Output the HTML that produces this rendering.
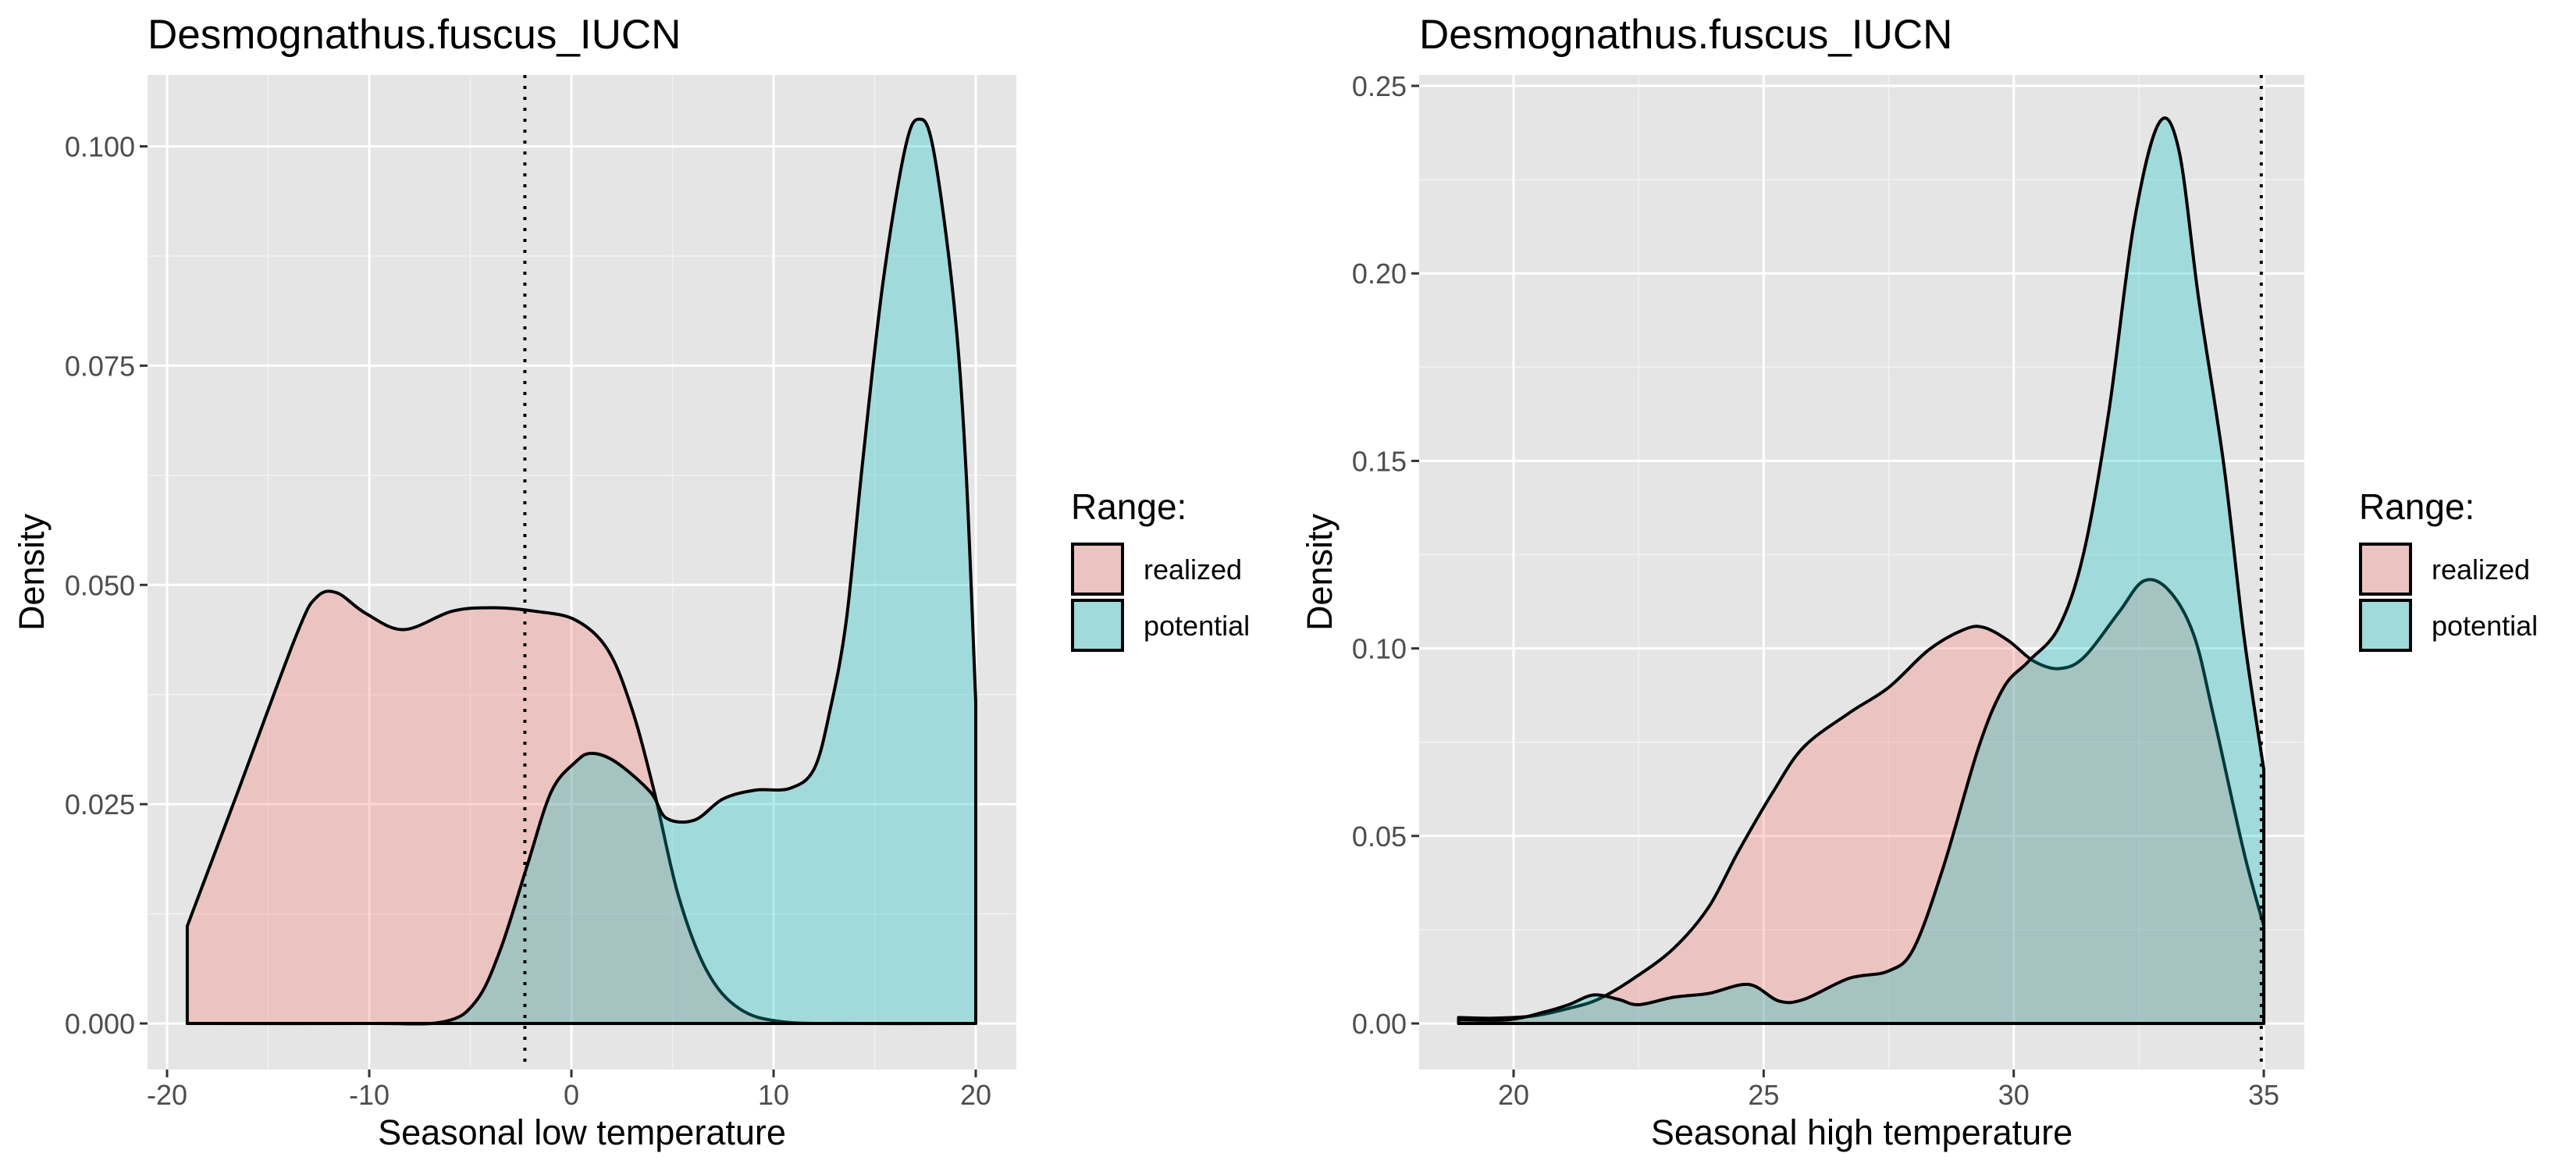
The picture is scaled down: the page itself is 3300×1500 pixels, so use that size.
<!DOCTYPE html>
<html><head><meta charset="utf-8"><style>
html,body{margin:0;padding:0;background:#fff;}
svg{display:block;font-family:"Liberation Sans",sans-serif;}
</style></head><body>
<svg id="chart" width="3300" height="1500" viewBox="0 0 3300 1500" xmlns="http://www.w3.org/2000/svg"></svg>
<script>
// ---- Data: left panel (Seasonal low temperature)
const lowRealizedX = [-19,-16.5,-13.6,-12.6,-11.6,-10.2,-8.3,-5.9,-3.9,-1.8,0.2,1.8,3.0,4.1,5.3,6.7,8.3,10.4,14,20];
const lowRealizedY = [0.0111,0.0264,0.0443,0.0486,0.0491,0.0468,0.0449,0.047,0.0474,0.047,0.046,0.0426,0.0358,0.0264,0.0145,0.006,0.0017,0.0002,0,0];
const lowPotentialX = [-19,-10,-6.3,-4.7,-3.5,-2.2,-1.0,0.2,1.0,2.2,3.9,4.7,6.1,7.5,9.1,10.8,12.0,12.8,13.6,14.4,15.4,16.5,17.2,17.9,18.9,19.5,20];
const lowPotentialY = [0,0,0.0002,0.0026,0.0085,0.0179,0.0264,0.0298,0.0308,0.0298,0.0264,0.0234,0.0232,0.0256,0.0266,0.0268,0.029,0.0358,0.046,0.0639,0.0843,0.0997,0.1031,0.0997,0.0826,0.0639,0.0366];
// ---- Data: right panel (Seasonal high temperature)
const highRealizedX = [18.9,19.6,20.4,21.1,21.7,22.4,23.2,23.9,24.5,25.2,25.8,26.7,27.5,28.3,29.0,29.4,29.9,30.4,30.9,31.4,32.1,32.6,33.1,33.6,34.0,34.6,35];
const highRealizedY = [0.0016,0.0014,0.002,0.004,0.0065,0.012,0.02,0.031,0.046,0.062,0.0737,0.0827,0.0896,0.0996,0.105,0.1056,0.102,0.0966,0.0946,0.0976,0.1096,0.118,0.1155,0.1036,0.0817,0.0458,0.026];
const highPotentialX = [18.9,19.9,20.6,21.1,21.6,22.1,22.5,23.2,23.9,24.7,25.3,25.8,26.7,27.5,28.0,28.6,29.3,29.8,30.3,30.9,31.4,31.9,32.4,32.9,33.3,33.7,34.2,34.6,35];
const highPotentialY = [0.001,0.001,0.003,0.005,0.0076,0.0064,0.005,0.007,0.008,0.0104,0.006,0.0064,0.012,0.014,0.02,0.042,0.0737,0.0896,0.0966,0.1056,0.1255,0.163,0.213,0.24,0.233,0.193,0.149,0.1036,0.0677];
const lowXTicks = [-20,-10,0,10,20];
const lowXMinor = [-15,-5,5,15];
const lowYTicks = [0,0.025,0.05,0.075,0.1];
const lowYLabels = ["0.000","0.025","0.050","0.075","0.100"];
const lowYMinor = [0.0125,0.0375,0.0625,0.0875];
const highXTicks = [20,25,30,35];
const highXMinor = [22.5,27.5,32.5];
const highYTicks = [0,0.05,0.1,0.15,0.2,0.25];
const highYLabels = ["0.00","0.05","0.10","0.15","0.20","0.25"];
const highYMinor = [0.025,0.075,0.125,0.175,0.225];
const lowVline = -2.3;
const highVline = 34.95;

const NS="http://www.w3.org/2000/svg";
const svg=document.getElementById('chart');
const ALPHA=0.3;
function mk(tag,attrs,parent){const e=document.createElementNS(NS,tag);for(const k in attrs)e.setAttribute(k,attrs[k]);(parent||svg).appendChild(e);return e;}
function txt(s,attrs,parent){const e=mk('text',attrs,parent);e.textContent=s;return e;}
function smooth(pts){let d=`M${pts[0][0]},${pts[0][1]}`;for(let i=0;i<pts.length-1;i++){const p0=pts[Math.max(0,i-1)],p1=pts[i],p2=pts[i+1],p3=pts[Math.min(pts.length-1,i+2)];const c1x=p1[0]+(p2[0]-p0[0])/6,c1y=p1[1]+(p2[1]-p0[1])/6,c2x=p2[0]-(p3[0]-p1[0])/6,c2y=p2[1]-(p3[1]-p1[1])/6;d+=` C${c1x},${c1y} ${c2x},${c2y} ${p2[0]},${p2[1]}`;}return d;}

function panel(cfg){
  const g=mk('g',{});
  
  
  const sx=v=>cfg.x0px+(v-cfg.x0)*cfg.kx, sy=v=>cfg.y0px-v*cfg.ky;
  const bg=mk('rect',{x:cfg.L,y:cfg.T,width:cfg.R-cfg.L,height:cfg.B-cfg.T,fill:'#E5E5E5'},g);
  
  
  cfg.xMinor.forEach(v=>mk('line',{x1:sx(v),x2:sx(v),y1:cfg.T,y2:cfg.B,stroke:'#F2F2F2','stroke-width':1.5},g));
  cfg.yMinor.forEach(v=>mk('line',{x1:cfg.L,x2:cfg.R,y1:sy(v),y2:sy(v),stroke:'#F2F2F2','stroke-width':1.5},g));
  cfg.xTicks.forEach(v=>mk('line',{x1:sx(v),x2:sx(v),y1:cfg.T,y2:cfg.B,stroke:'#fff','stroke-width':3},g));
  cfg.yTicks.forEach(v=>mk('line',{x1:cfg.L,x2:cfg.R,y1:sy(v),y2:sy(v),stroke:'#fff','stroke-width':3},g));
  [[cfg.rx,cfg.ry,'#F8766D','realized-density'],[cfg.px,cfg.py,'#00BFC4','potential-density']].forEach(([xs,ys,col,nm])=>{
    const pts=xs.map((v,i)=>[sx(v),sy(ys[i])]);
    const d=smooth(pts)+` L${pts[pts.length-1][0]},${sy(0)} L${pts[0][0]},${sy(0)} Z`;
    const p=mk('path',{d:d,fill:col,'fill-opacity':ALPHA,stroke:'#000','stroke-width':4,'stroke-linejoin':'round'},g);
    
    
  });
  const vl=mk('line',{x1:sx(cfg.vline),x2:sx(cfg.vline),y1:cfg.T,y2:cfg.B,stroke:'#000','stroke-width':4,'stroke-dasharray':'4 10'},g);
  
  
  cfg.xTicks.forEach(v=>{mk('line',{x1:sx(v),x2:sx(v),y1:cfg.B,y2:cfg.B+10,stroke:'#333','stroke-width':3},g);
    const t=txt(String(v),{x:sx(v),y:cfg.B+45,'text-anchor':'middle','font-size':36,fill:'#4D4D4D'},g);
    
    });
  cfg.yTicks.forEach((v,i)=>{mk('line',{x1:cfg.L-10,x2:cfg.L,y1:sy(v),y2:sy(v),stroke:'#333','stroke-width':3},g);
    const t=txt(cfg.yLabels[i],{x:cfg.L-16,y:sy(v)+13,'text-anchor':'end','font-size':36,fill:'#4D4D4D'},g);
    
    });
  const ti=txt('Desmognathus.fuscus_IUCN',{x:cfg.titleX,y:62,'font-size':53,fill:'#000'},g);
  
  
  const xt=txt(cfg.xTitle,{x:(cfg.L+cfg.R)/2,y:1466,'text-anchor':'middle','font-size':45,fill:'#000'},g);
  
  
  const yt=txt('Density',{x:0,y:0,'text-anchor':'middle','font-size':45,fill:'#000',transform:`translate(${cfg.yTitleX},${(cfg.T+cfg.B)/2}) rotate(-90)`},g);
  
  
  const lg=mk('g',{},g);
  
  
  txt('Range:',{x:cfg.legX,y:665,'font-size':46,fill:'#000'},lg);
  [['#F8766D','realized',695],['#00BFC4','potential',767]].forEach(([c,l,y])=>{
    mk('rect',{x:cfg.legX+2,y:y+2,width:64,height:64,fill:'#E5E5E5',stroke:'none'},lg);
    mk('rect',{x:cfg.legX+2,y:y+2,width:64,height:64,fill:c,'fill-opacity':ALPHA,stroke:'#000','stroke-width':4},lg);
    const lt=txt(l,{x:cfg.legX+93,y:y+47,'font-size':36,fill:'#000'},lg);
    
    
  });
}
panel({name:'low-temperature-panel',L:189,R:1302,T:96,B:1370,x0:-20,x0px:214,kx:25.9,y0px:1311,ky:11235,
  xTicks:lowXTicks,xMinor:lowXMinor,yTicks:lowYTicks,yLabels:lowYLabels,yMinor:lowYMinor,
  rx:lowRealizedX,ry:lowRealizedY,px:lowPotentialX,py:lowPotentialY,vline:lowVline,
  titleX:189,xTitle:'Seasonal low temperature',yTitleX:56,legX:1372});
panel({name:'high-temperature-panel',L:1818,R:2952,T:96,B:1370,x0:20,x0px:1939,kx:64.07,y0px:1311,ky:4804,
  xTicks:highXTicks,xMinor:highXMinor,yTicks:highYTicks,yLabels:highYLabels,yMinor:highYMinor,
  rx:highRealizedX,ry:highRealizedY,px:highPotentialX,py:highPotentialY,vline:highVline,
  titleX:1818,xTitle:'Seasonal high temperature',yTitleX:1706,legX:3022});
</script>
</body></html>
